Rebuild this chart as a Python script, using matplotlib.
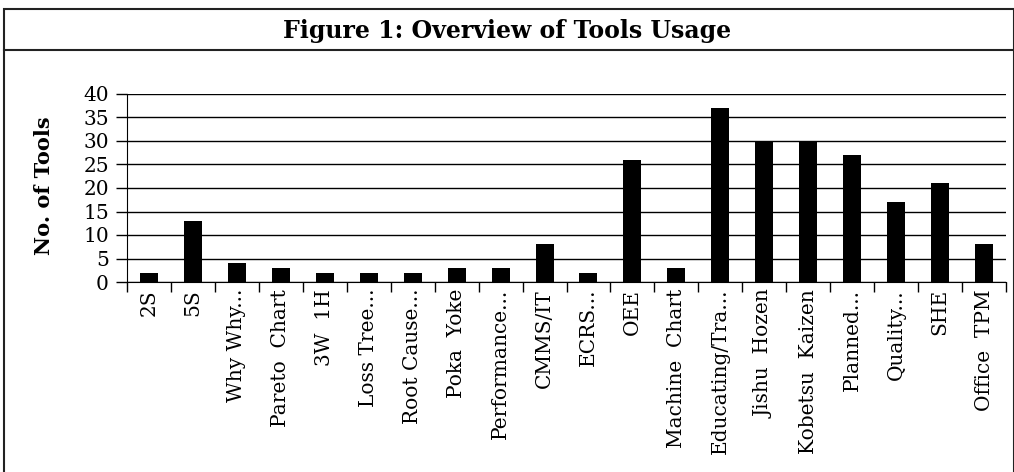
import matplotlib
matplotlib.use("Agg")
import matplotlib.pyplot as plt
from matplotlib.patches import Rectangle
from matplotlib.lines import Line2D

TITLE = "Figure 1: Overview of Tools Usage"
YLABEL = "No. of Tools"
TOOLS = ["2S", "5S", "Why Why...", "Pareto  Chart", "3W  1H", "Loss Tree...",
         "Root Cause...", "Poka  Yoke", "Performance...", "CMMS/IT", "ECRS...",
         "OEE", "Machine  Chart", "Educating/Tra...", "Jishu  Hozen",
         "Kobetsu  Kaizen", "Planned...", "Quality...", "SHE", "Office  TPM"]
COUNTS = [2, 13, 4, 3, 2, 2, 2, 3, 3, 8, 2, 26, 3, 37, 30, 30, 27, 17, 21, 8]
YTICKS = [0, 5, 10, 15, 20, 25, 30, 35, 40]

plt.rcParams["font.family"] = ["DejaVu Serif"]

W, H = 1014, 472
fig = plt.figure(figsize=(W / 100, H / 100), dpi=100)

# outer frame + title row
fig.patches.append(Rectangle((4 / W, -0.01), (W - 4) / W, 1 - 9 / H + 0.01,
                             transform=fig.transFigure, fill=False,
                             ec="#222222", lw=1.5))
fig.lines.append(Line2D([4 / W, 1], [1 - 50 / H] * 2, transform=fig.transFigure,
                        color="#222222", lw=1.5))
fig.text(0.5, 1 - 31 / H, TITLE, ha="center", va="center",
         fontsize=17, fontweight="bold")

ax = fig.add_axes([127 / W, 1 - 282 / H, (1006 - 127) / W, (282 - 94) / H])
x = range(len(TOOLS))
ax.bar(x, COUNTS, width=0.41, color="black", zorder=3)
ax.set_xlim(-0.5, len(TOOLS) - 0.5)
ax.set_ylim(0, 40)
ax.set_yticks(YTICKS)
ax.yaxis.grid(True, color="black", lw=1)
ax.set_axisbelow(True)
for s in ("top", "right"):
    ax.spines[s].set_visible(False)

ax.set_xticks([i - 0.5 for i in range(len(TOOLS) + 1)])
ax.set_xticklabels([])
ax.set_xticks(list(x), minor=True)
ax.set_xticklabels(TOOLS, minor=True, rotation=90, fontsize=14.5)
ax.tick_params(axis="x", which="minor", length=0, pad=5)
ax.tick_params(axis="x", which="major", length=7, width=1)
ax.tick_params(axis="y", length=8, width=1, labelsize=14.5, pad=5)

fig.text(44 / W, 1 - 186 / H, YLABEL, rotation=90, ha="center", va="center",
         fontsize=15, fontweight="bold")

fig.savefig("out.png", dpi=100)
